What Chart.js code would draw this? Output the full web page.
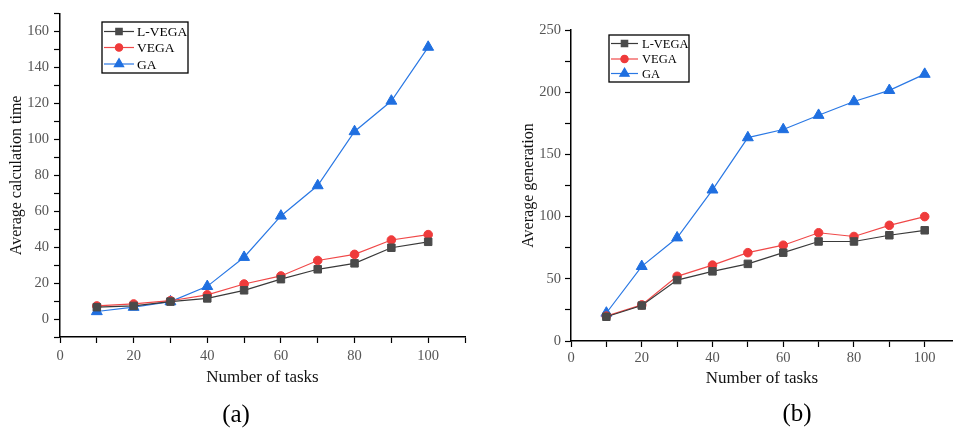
<!DOCTYPE html>
<html>
<head>
<meta charset="utf-8">
<script src="https://cdn.jsdelivr.net/npm/chart.js@4/dist/chart.umd.min.js"></script>
<style>
  html, body { margin: 0; padding: 0; background: #fff; overflow: hidden; width: 953px; height: 434px; }
  canvas { position: absolute; top: 0; }
  .cap { position: absolute; font-family: "Liberation Serif", serif; font-size: 25px; color: #000;
         transform: translate(-50%, -50%); white-space: nowrap; }
</style>
</head>
<body>
<canvas id="chartA" width="476" height="434" style="left:0"></canvas>
<canvas id="chartB" width="477" height="434" style="left:476px"></canvas>
<div class="cap" style="left:236px;top:414px">(a)</div>
<div class="cap" style="left:797px;top:413px">(b)</div>
<script>
// data
var tasks = [10, 20, 30, 40, 50, 60, 70, 80, 90, 100];
var seriesNames = ["L-VEGA", "VEGA", "GA"];

var timeLVEGA = [6.6, 7.3, 9.7, 11.5, 16, 22.2, 27.7, 31, 39.7, 43];
var timeVEGA  = [7.3, 8.4, 10.2, 13.5, 19.5, 24, 32.6, 36, 44, 47];
var timeGA    = [4.2, 6.6, 9.7, 18.2, 34.4, 57.4, 74.3, 104.4, 121.4, 151.4];

var genLVEGA = [19.5, 28.5, 49, 56, 62, 71, 80, 80, 85, 89];
var genVEGA  = [20, 29, 52, 61, 71, 77, 87, 84, 93, 100];
var genGA    = [22.5, 60, 83, 121.5, 163.5, 170, 181.5, 192.5, 201.5, 214.5];

var seriesColors = ["#4a4a4a", "#ef3b3b", "#1f6fe0"];
var lineColors = ["#3a3a3a", "#f04848", "#2a78e4"];
var seriesStyles = ["rect", "circle", "triangle"];
var seriesRadius = [5.3, 4.3, 6.3];

var serif = "'Liberation Serif', 'Times New Roman', serif";

function pairs(ys) {
    return tasks.map(function (t, i) { return { x: t, y: ys[i] }; });
}

function makeDatasets(list) {
    return list.map(function (ys, i) {
        return {
            label: seriesNames[i],
            data: pairs(ys),
            borderColor: lineColors[i],
            backgroundColor: seriesColors[i],
            borderWidth: 1.2,
            pointStyle: seriesStyles[i],
            pointRadius: seriesRadius[i],
            pointBorderColor: seriesColors[i],
            pointBackgroundColor: seriesColors[i],
            pointBorderWidth: 1,
            tension: 0
        };
    });
}

// framed legend inside the plot, like the original figure
var boxLegend = {
    id: "boxLegend",
    afterDraw: function (chart, args, opts) {
        var ctx = chart.ctx;
        ctx.save();
        ctx.fillStyle = "#fff";
        ctx.fillRect(opts.x, opts.y, opts.w, opts.h);
        ctx.strokeStyle = "#000";
        ctx.lineWidth = 1.3;
        ctx.strokeRect(opts.x, opts.y, opts.w, opts.h);
        ctx.font = opts.fontSize + "px " + serif;
        ctx.textBaseline = "middle";
        chart.data.datasets.forEach(function (ds, i) {
            var y = opts.rows[i];
            ctx.strokeStyle = ds.borderColor;
            ctx.lineWidth = 1.2;
            ctx.beginPath();
            ctx.moveTo(opts.lineX0, y);
            ctx.lineTo(opts.lineX1, y);
            ctx.stroke();
            ctx.fillStyle = ds.pointBackgroundColor;
            ctx.strokeStyle = ds.pointBorderColor;
            Chart.helpers.drawPoint(ctx, {
                pointStyle: ds.pointStyle,
                radius: ds.pointRadius * 0.85,
                rotation: 0,
                borderWidth: 1
            }, (opts.lineX0 + opts.lineX1) / 2, y);
            ctx.fillStyle = "#000";
            ctx.fillText(ds.label, opts.textX, y + 1);
        });
        ctx.restore();
    }
};

function axisOpts(min, max, step, labelEvery, title, extra) {
    return Object.assign({
        type: "linear",
        min: min,
        max: max,
        border: { display: true, color: "#000", width: 1.5 },
        grid: { drawOnChartArea: false, drawTicks: true, tickLength: 6, tickWidth: 1.2, color: "#000" },
        ticks: {
            stepSize: step,
            includeBounds: false,
            autoSkip: false,
            maxRotation: 0,
            color: "#555",
            font: { family: serif, size: 14.5 },
            callback: function (v) { return v % labelEvery === 0 ? v : ""; }
        },
        title: { display: true, text: title, color: "#111", font: { family: serif, size: 17 } }
    }, extra);
}

function buildChart(canvasId, datasets, cfg) {
    var xAxis = axisOpts(0, cfg.xMax, 10, 20, "Number of tasks", {
        afterFit: function (s) {
            s.height = cfg.xHeight;
            s.paddingLeft = 0;
            s.paddingRight = 0;
        }
    });
    xAxis.ticks.padding = cfg.xTickPad;
    xAxis.title.padding = { top: 0, bottom: cfg.xTitlePad };

    var yAxis = axisOpts(cfg.yMin, cfg.yMax, cfg.yStep, cfg.yLabelEvery, cfg.yTitle, {
        afterFit: function (s) { s.width = cfg.yWidth; }
    });
    yAxis.ticks.padding = cfg.yTickPad;
    yAxis.title.font.size = 16;
    yAxis.title.padding = { top: cfg.yTitlePad, bottom: 0 };

    return new Chart(document.getElementById(canvasId), {
        type: "line",
        data: { datasets: datasets },
        options: {
            responsive: false,
            animation: false,
            devicePixelRatio: 1,
            layout: { padding: cfg.padding, autoPadding: false },
            plugins: {
                legend: { display: false },
                tooltip: { enabled: false },
                boxLegend: cfg.legend
            },
            scales: { x: xAxis, y: yAxis }
        },
        plugins: [boxLegend]
    });
}

buildChart("chartA", makeDatasets([timeLVEGA, timeVEGA, timeGA]), {
    xMax: 110,
    yMin: -10, yMax: 170, yStep: 10, yLabelEvery: 20,
    yTitle: "Average calculation time",
    yWidth: 60, xHeight: 97,
    xTickPad: 4, yTickPad: 5, xTitlePad: 46, yTitlePad: 7,
    padding: { top: 7, right: 11, left: 0, bottom: 0 },
    legend: {
        x: 102, y: 22, w: 86, h: 51,
        rows: [31.5, 47.5, 64],
        lineX0: 104, lineX1: 134, textX: 137, fontSize: 13.5
    }
});

// the right panel is cropped at the figure edge, so its x axis stops short of 110
buildChart("chartB", makeDatasets([genLVEGA, genVEGA, genGA]), {
    xMax: 108,
    yMin: 0, yMax: 250, yStep: 25, yLabelEvery: 50,
    yTitle: "Average generation",
    yWidth: 95, xHeight: 93,
    xTickPad: 2, yTickPad: 4, xTitlePad: 45, yTitlePad: 43,
    padding: { top: 30, right: 0, left: 0, bottom: 0 },
    legend: {
        x: 133, y: 35, w: 80, h: 47,
        rows: [43.5, 59, 73.5],
        lineX0: 135, lineX1: 162, textX: 166, fontSize: 12.5
    }
});
</script>
</body>
</html>
